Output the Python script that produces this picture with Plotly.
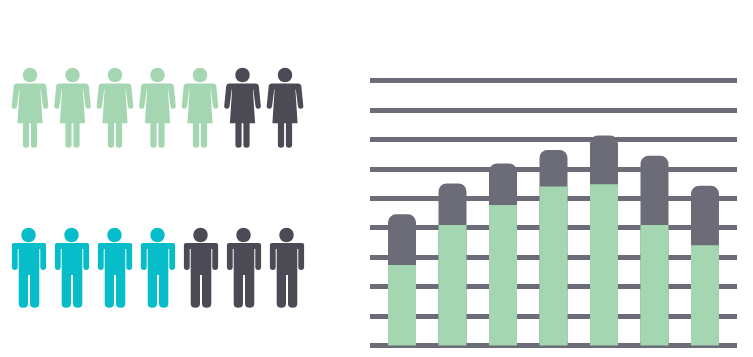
import plotly.graph_objects as go

# Data
bar_positions = [0, 1, 2, 3, 4, 5, 6]
total_values = [44.6, 55.1, 61.9, 66.5, 71.4, 64.5, 54.3]
green_values = [27.4, 41, 47.8, 54.1, 54.8, 41, 34.1]
icon_slots = [0, 1, 2, 3, 4, 5, 6]
female_highlighted = 5
male_highlighted = 4
female_row = 1
male_row = 0
grid_ticks = [0, 10, 20, 30, 40, 50, 60, 70, 80, 90]

GREEN = "#a5d6b2"
TEAL = "#06bdc9"
ICON_DARK = "#4b4a55"
BAR_DARK = "#6c6b78"
W, H = 753, 357


def px_x(p):
    return p / W


def px_y(p):
    return 1 - p / H


# Glyph outlines: pixel offsets from the head centre, y pointing down
FEMALE_BODY = [
    ("M", -13.5, 8.5), ("L", 13.5, 8.5), ("Q", 16, 8.5, 16.3, 11),
    ("L", 18.3, 31), ("Q", 18.5, 33.8, 15.6, 33.8), ("Q", 13.2, 33.8, 13, 31.5),
    ("L", 10.8, 14.5), ("L", 10.4, 14.5), ("L", 12.6, 48.3), ("L", 7.1, 48.3),
    ("L", 7.1, 70), ("Q", 7.1, 72.8, 4, 72.8), ("Q", 0.9, 72.8, 0.9, 70), ("L", 0.9, 48.3),
    ("L", -0.9, 48.3), ("L", -0.9, 70), ("Q", -0.9, 72.8, -4, 72.8),
    ("Q", -7.1, 72.8, -7.1, 70), ("L", -7.1, 48.3), ("L", -12.6, 48.3),
    ("L", -10.4, 14.5), ("L", -10.8, 14.5), ("L", -13, 31.5),
    ("Q", -13.2, 33.8, -15.6, 33.8), ("Q", -18.5, 33.8, -18.3, 31),
    ("L", -16.3, 11), ("Q", -16, 8.5, -13.5, 8.5), ("Z",),
]
MALE_BODY = [
    ("M", -14.5, 8), ("L", 15.5, 8), ("Q", 17.6, 8, 17.6, 10),
    ("L", 17.6, 32), ("Q", 17.6, 35, 14.6, 35), ("Q", 11.8, 35, 11.8, 32),
    ("L", 11.8, 14), ("L", 10.8, 14), ("L", 10.8, 68.5), ("Q", 10.8, 72.8, 6.2, 72.8),
    ("Q", 1.5, 72.8, 1.5, 68.5), ("L", 1.5, 40), ("L", -0.5, 40),
    ("L", -0.5, 68.5), ("Q", -0.5, 72.8, -5.2, 72.8), ("Q", -9.8, 72.8, -9.8, 68.5),
    ("L", -9.8, 14), ("L", -10.8, 14), ("L", -10.8, 32), ("Q", -10.8, 35, -13.6, 35),
    ("Q", -16.6, 35, -16.6, 32), ("L", -16.6, 10), ("Q", -16.6, 8, -14.5, 8), ("Z",),
]


def glyph_path(commands):
    parts = []
    for cmd in commands:
        nums = cmd[1:]
        flipped = [n if i % 2 == 0 else -n for i, n in enumerate(nums)]
        parts.append(cmd[0] + " " + " ".join(f"{n:.2f}" for n in flipped))
    return " ".join(parts)


def icon_colors(highlighted, color):
    return [color if i < highlighted else ICON_DARK for i in icon_slots]


female_colors = icon_colors(female_highlighted, GREEN)
male_colors = icon_colors(male_highlighted, TEAL)

fig = go.Figure()

fig.add_bar(x=bar_positions, y=total_values, width=0.554,
            marker=dict(color=BAR_DARK, line_width=0), showlegend=False, hoverinfo="skip")
fig.add_bar(x=bar_positions, y=green_values, width=0.554,
            marker=dict(color=GREEN, line_width=0), showlegend=False, hoverinfo="skip")

fig.add_scatter(x=icon_slots, y=[female_row] * len(icon_slots), xaxis="x2", yaxis="y2",
                mode="markers", cliponaxis=False, showlegend=False, hoverinfo="skip",
                marker=dict(size=14.5, color=female_colors, line_width=0))
fig.add_scatter(x=icon_slots, y=[male_row] * len(icon_slots), xaxis="x3", yaxis="y2",
                mode="markers", cliponaxis=False, showlegend=False, hoverinfo="skip",
                marker=dict(size=14.5, color=male_colors, line_width=0))

shapes = []
for i in icon_slots:
    shapes.append(dict(type="path", path=glyph_path(FEMALE_BODY), xref="x2", yref="y2",
                       xsizemode="pixel", ysizemode="pixel", xanchor=i, yanchor=female_row,
                       fillcolor=female_colors[i], line_width=0, layer="above"))
    shapes.append(dict(type="path", path=glyph_path(MALE_BODY), xref="x3", yref="y2",
                       xsizemode="pixel", ysizemode="pixel", xanchor=i, yanchor=male_row,
                       fillcolor=male_colors[i], line_width=0, layer="above"))

icon_left, icon_right = 0, 340
hidden = dict(visible=False, fixedrange=True)

fig.update_layout(
    width=W, height=H,
    margin=dict(l=0, r=0, t=0, b=0),
    paper_bgcolor="white", plot_bgcolor="rgba(0,0,0,0)",
    barmode="overlay", barcornerradius=8,
    showlegend=False,
    shapes=shapes,
    xaxis=dict(domain=[px_x(370), px_x(737)], range=[-0.634, 6.634],
               showgrid=False, zeroline=False, showticklabels=False, ticks="", fixedrange=True),
    yaxis=dict(domain=[px_y(348.44), px_y(77.86)], range=[-1, 91],
               tickvals=grid_ticks, showgrid=True, gridcolor=BAR_DARK, gridwidth=4.5,
               zeroline=False, showticklabels=False, ticks="", fixedrange=True),
    xaxis2=dict(domain=[px_x(icon_left), px_x(icon_right)], anchor="y2",
                range=[(icon_left - 30) / 42.5, (icon_right - 30) / 42.5], **hidden),
    xaxis3=dict(domain=[px_x(icon_left), px_x(icon_right)], anchor="y2",
                range=[(icon_left - 28.5) / 43, (icon_right - 28.5) / 43], **hidden),
    yaxis2=dict(domain=[px_y(315), px_y(55)], anchor="x2", range=[-0.5, 1.125], **hidden),
)

fig.write_html("out.html", config=dict(displayModeBar=False),
               post_script="document.body.style.margin='0';")
